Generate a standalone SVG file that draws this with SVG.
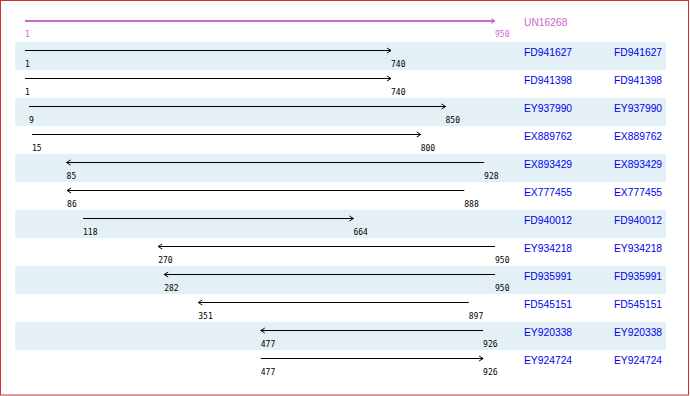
<svg xmlns="http://www.w3.org/2000/svg" width="690" height="396" viewBox="0 0 690 396">
<style>
.band{fill:#e3f0f5}
.ln{stroke:#000;stroke-width:1;fill:none}
.num{font-family:"DejaVu Sans Mono","Liberation Mono",monospace;font-size:8px;fill:#000}
.nm{font-family:"Liberation Sans",Arial,sans-serif;font-size:10.3px;fill:#0000ee}
.pk{fill:#cc66cc}
</style>
<defs>
<marker id="ah" viewBox="-5 -4 6 8" markerWidth="6" markerHeight="8" refX="0" refY="0" orient="auto" markerUnits="userSpaceOnUse">
<path d="M-4,-2.5 L0,0 L-4,2.5" fill="none" stroke="#000" stroke-width="1"/>
</marker>
<marker id="ahp" viewBox="-5 -4 6 8" markerWidth="6" markerHeight="8" refX="0" refY="0" orient="auto" markerUnits="userSpaceOnUse">
<path d="M-4,-2.5 L0,0 L-4,2.5" fill="none" stroke="#cc66cc" stroke-width="1"/>
</marker>
</defs>
<rect x="0.5" y="0.5" width="688" height="394.5" fill="#fff" stroke="#c33" stroke-width="1"/>
<g id="bands">
<rect class="band" x="15" y="42" width="651" height="28"/>
<rect class="band" x="15" y="98" width="651" height="28"/>
<rect class="band" x="15" y="154" width="651" height="28"/>
<rect class="band" x="15" y="210" width="651" height="28"/>
<rect class="band" x="15" y="266" width="651" height="28"/>
<rect class="band" x="15" y="322" width="651" height="28"/>
</g>
<g id="connectors">
<line x1="25" y1="21" x2="495" y2="21" stroke="#cc66cc" stroke-width="2" marker-end="url(#ahp)"/>
<line class="ln" x1="25" y1="50.5" x2="391" y2="50.5" marker-end="url(#ah)"/>
<line class="ln" x1="25" y1="78.5" x2="391" y2="78.5" marker-end="url(#ah)"/>
<line class="ln" x1="29" y1="106.5" x2="445.5" y2="106.5" marker-end="url(#ah)"/>
<line class="ln" x1="32" y1="134.5" x2="420.7" y2="134.5" marker-end="url(#ah)"/>
<line class="ln" x1="484.1" y1="162.5" x2="66.6" y2="162.5" marker-end="url(#ah)"/>
<line class="ln" x1="464.3" y1="190.5" x2="67.1" y2="190.5" marker-end="url(#ah)"/>
<line class="ln" x1="83" y1="218.5" x2="353.4" y2="218.5" marker-end="url(#ah)"/>
<line class="ln" x1="495" y1="246.5" x2="158.2" y2="246.5" marker-end="url(#ah)"/>
<line class="ln" x1="495" y1="274.5" x2="164.2" y2="274.5" marker-end="url(#ah)"/>
<line class="ln" x1="468.8" y1="302.5" x2="198.3" y2="302.5" marker-end="url(#ah)"/>
<line class="ln" x1="483.1" y1="330.5" x2="260.8" y2="330.5" marker-end="url(#ah)"/>
<line class="ln" x1="260.8" y1="358.5" x2="483.1" y2="358.5" marker-end="url(#ah)"/>
</g>
<g id="UN16268">
<text class="num pk" x="25" y="37">1</text><text class="num pk" x="495" y="37">950</text>
<text class="nm pk" x="524" y="26">UN16268</text>
</g>
<g id="FD941627">
<text class="num" x="25" y="67">1</text><text class="num" x="391" y="67">740</text>
<text class="nm" x="524" y="55.5">FD941627</text><text class="nm" x="614" y="55.5">FD941627</text>
</g>
<g id="FD941398">
<text class="num" x="25" y="95">1</text><text class="num" x="391" y="95">740</text>
<text class="nm" x="524" y="83.5">FD941398</text><text class="nm" x="614" y="83.5">FD941398</text>
</g>
<g id="EY937990">
<text class="num" x="29" y="123">9</text><text class="num" x="445.5" y="123">850</text>
<text class="nm" x="524" y="111.5">EY937990</text><text class="nm" x="614" y="111.5">EY937990</text>
</g>
<g id="EX889762">
<text class="num" x="32" y="151">15</text><text class="num" x="420.7" y="151">800</text>
<text class="nm" x="524" y="139.5">EX889762</text><text class="nm" x="614" y="139.5">EX889762</text>
</g>
<g id="EX893429">
<text class="num" x="66.6" y="179">85</text><text class="num" x="484.1" y="179">928</text>
<text class="nm" x="524" y="167.5">EX893429</text><text class="nm" x="614" y="167.5">EX893429</text>
</g>
<g id="EX777455">
<text class="num" x="67.1" y="207">86</text><text class="num" x="464.3" y="207">888</text>
<text class="nm" x="524" y="195.5">EX777455</text><text class="nm" x="614" y="195.5">EX777455</text>
</g>
<g id="FD940012">
<text class="num" x="83" y="235">118</text><text class="num" x="353.4" y="235">664</text>
<text class="nm" x="524" y="223.5">FD940012</text><text class="nm" x="614" y="223.5">FD940012</text>
</g>
<g id="EY934218">
<text class="num" x="158.2" y="263">270</text><text class="num" x="495" y="263">950</text>
<text class="nm" x="524" y="251.5">EY934218</text><text class="nm" x="614" y="251.5">EY934218</text>
</g>
<g id="FD935991">
<text class="num" x="164.2" y="291">282</text><text class="num" x="495" y="291">950</text>
<text class="nm" x="524" y="279.5">FD935991</text><text class="nm" x="614" y="279.5">FD935991</text>
</g>
<g id="FD545151">
<text class="num" x="198.3" y="319">351</text><text class="num" x="468.8" y="319">897</text>
<text class="nm" x="524" y="307.5">FD545151</text><text class="nm" x="614" y="307.5">FD545151</text>
</g>
<g id="EY920338">
<text class="num" x="260.8" y="347">477</text><text class="num" x="483.1" y="347">926</text>
<text class="nm" x="524" y="335.5">EY920338</text><text class="nm" x="614" y="335.5">EY920338</text>
</g>
<g id="EY924724">
<text class="num" x="260.8" y="375">477</text><text class="num" x="483.1" y="375">926</text>
<text class="nm" x="524" y="363.5">EY924724</text><text class="nm" x="614" y="363.5">EY924724</text>
</g>
</svg>
